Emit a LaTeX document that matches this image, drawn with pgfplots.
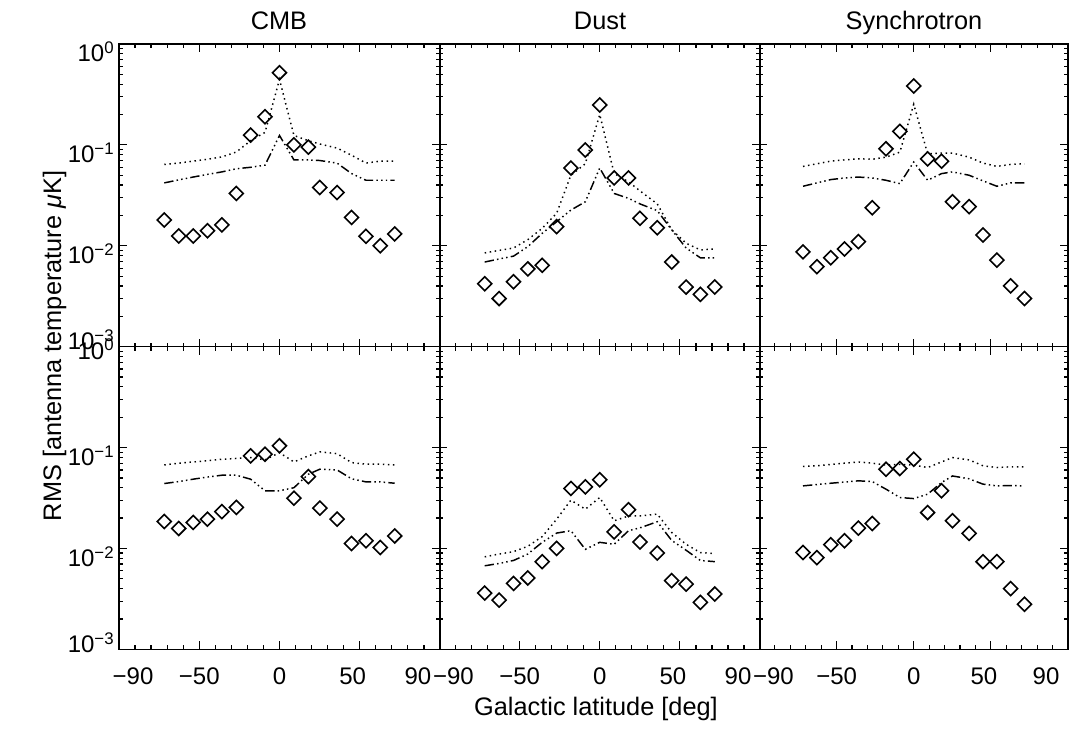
\documentclass[border=0pt]{standalone}
\usepackage{fontspec}
\setmainfont{Liberation Sans}
\usepackage{pgfplots}
\pgfplotsset{compat=1.18}
\usepackage{pgfplotstable}

% columns: latitude, rms of map (diamonds), dotted curve, dash-dot curve
\pgfplotstableread{
x     d       dot     dd
-64.6 0.0180  0.0640  0.0420
-56.5 0.0125  0.0660  0.0450
-48.4 0.0125  0.0690  0.0480
-40.4 0.0141  0.0720  0.0510
-32.3 0.0161  0.0760  0.0540
-24.2 0.0330  0.0850  0.0580
-16.2 0.1250  0.1100  0.0600
-8.1  0.1900  0.1330  0.0630
0     0.5200  0.4450  0.1240
8.1   0.1000  0.1240  0.0710
16.2  0.0950  0.1100  0.0710
22.6  0.0378  0.1020  0.0700
32.3  0.0337  0.0930  0.0660
40.4  0.0191  0.0790  0.0520
48.5  0.0124  0.0660  0.0446
56.5  0.0100  0.0690  0.0446
64.6  0.0131  0.0690  0.0446
}\cmbtop

\pgfplotstableread{
x     d       dot     dd
-64.6 0.0042  0.0085  0.0069
-56.5 0.0030  0.0090  0.0074
-48.4 0.0044  0.0095  0.0079
-40.4 0.0059  0.0115  0.0098
-32.3 0.0064  0.0149  0.0133
-24.2 0.0155  0.0210  0.0173
-16.2 0.0590  0.0500  0.0226
-8.1  0.0890  0.0650  0.0273
0     0.2490  0.2000  0.0590
8.1   0.0470  0.0520  0.0330
16.2  0.0470  0.0430  0.0295
22.6  0.0187  0.0350  0.0260
32.3  0.0151  0.0260  0.0223
40.4  0.0069  0.0144  0.0144
48.5  0.0039  0.0106  0.0095
56.5  0.0033  0.0091  0.0076
64.6  0.0039  0.0093  0.0076
}\dusttop

\pgfplotstableread{
x     d       dot     dd
-64.6 0.0087  0.0612  0.0389
-56.5 0.0062  0.0650  0.0420
-48.4 0.0076  0.0690  0.0453
-40.4 0.0093  0.0710  0.0470
-32.3 0.0110  0.0728  0.0480
-24.2 0.0238  0.0720  0.0470
-16.2 0.0914  0.0756  0.0446
-8.1  0.1360  0.0847  0.0413
0     0.3840  0.2530  0.0676
8.1   0.0728  0.0816  0.0446
16.2  0.0690  0.0830  0.0519
22.6  0.0273  0.0830  0.0540
32.3  0.0244  0.0756  0.0500
40.4  0.0128  0.0660  0.0440
48.5  0.0072  0.0612  0.0389
56.5  0.0040  0.0640  0.0420
64.6  0.0030  0.0650  0.0420
}\syntop

\pgfplotstableread{
x     d       dot     dd
-64.6 0.0185  0.0673  0.0440
-56.5 0.0158  0.0700  0.0460
-48.4 0.0181  0.0720  0.0486
-40.4 0.0195  0.0740  0.0510
-32.3 0.0232  0.0766  0.0532
-24.2 0.0255  0.0780  0.0532
-16.2 0.0827  0.0796  0.0486
-8.1  0.0859  0.0755  0.0373
0     0.1040  0.0890  0.0373
8.1   0.0315  0.0721  0.0400
16.2  0.0516  0.0827  0.0544
22.6  0.0251  0.0906  0.0610
32.3  0.0195  0.0870  0.0600
40.4  0.0112  0.0710  0.0490
48.5  0.0119  0.0684  0.0457
56.5  0.0102  0.0684  0.0457
64.6  0.0133  0.0673  0.0443
}\cmbbot

\pgfplotstableread{
x     d        dot     dd
-64.6 0.00361  0.00826 0.00673
-56.5 0.00308  0.0088  0.0071
-48.4 0.0045   0.0093  0.0076
-40.4 0.0051   0.0105  0.0088
-32.3 0.0074   0.0131  0.0115
-24.2 0.0100   0.0195  0.0142
-16.2 0.0393   0.0301  0.0150
-8.1  0.0408   0.0245  0.0098
0     0.0479   0.0320  0.0115
8.1   0.0146   0.0188  0.0110
16.2  0.0242   0.0210  0.0150
22.6  0.0116   0.0210  0.0160
32.3  0.0090   0.0219  0.0184
40.4  0.0048   0.0144  0.0120
48.5  0.00443  0.0110  0.0096
56.5  0.00292  0.0091  0.0076
64.6  0.00353  0.0089  0.0074
}\dustbot

\pgfplotstableread{
x     d       dot     dd
-64.6 0.0091  0.0649  0.0417
-56.5 0.0081  0.0660  0.0430
-48.4 0.0109  0.0680  0.0443
-40.4 0.0119  0.0700  0.0455
-32.3 0.0159  0.0720  0.0468
-24.2 0.0177  0.0700  0.0460
-16.2 0.0610  0.0670  0.0387
-8.1  0.0620  0.0680  0.0320
0     0.0766  0.0670  0.0312
8.1   0.0227  0.0634  0.0345
16.2  0.0373  0.0720  0.0450
22.6  0.0188  0.0796  0.0523
32.3  0.0141  0.0755  0.0490
40.4  0.0074  0.0660  0.0434
48.5  0.0074  0.0634  0.0417
56.5  0.0040  0.0644  0.0420
64.6  0.0028  0.0644  0.0417
}\synbot

\newcommand{\tl}[1]{10\textsuperscript{#1}}
\newcommand{\up}[2]{\raisebox{#1}[\height][\depth]{#2}}
% label drawn off-centre from its tick, as in the original
\newcommand{\sh}[2]{\hspace*{#1}\makebox[0pt][c]{#2}\hspace*{-#1}}

\pgfplotsset{
  every axis/.append style={
    scale only axis, anchor=north west, height=227pt,
    xmin=-90, xmax=90, ymin=1e-3, ymax=1,
    xtick={-90,-45,0,45,90}, minor x tick num=4,
    ytick={0.001,0.01,0.1,1},
    tick align=inside, tick pos=both,
    major tick length=6pt, minor tick length=3pt,
    axis line style={line width=1.1pt},
    tick style={black, line width=0.9pt},
    xticklabels={}, yticklabels={},
    tick label style={font=\fontsize{18}{20}\selectfont},
    xticklabel style={yshift=-10pt},
    yticklabel style={yshift=-6pt},
  },
  rmsdia/.style={only marks, mark=square, mark size=3.7pt,
    mark options={rotate=45, solid, line width=1.2pt, line join=miter}},
  rmsdot/.style={no markers, line width=1.1pt, dash pattern=on 1.1pt off 2.7pt},
  rmsdd/.style={no markers, line width=1.1pt,
    dash pattern=on 7pt off 2.4pt on 1.1pt off 2.4pt on 1.1pt off 2.4pt on 1.1pt off 2.4pt},
}

\begin{document}
\begin{tikzpicture}
\path[use as bounding box] (0pt,0pt) rectangle (804pt,546.75pt);

% top row
\begin{axis}[ymode=log, at={(89.25pt,513.75pt)}, width=240.75pt,
  yticklabels={{\up{11pt}{\tl{−3}}},{\tl{−2}},{\tl{−1}},{\tl{0}}}]
\addplot[rmsdd] table[x=x,y=dd]{\cmbtop};
\addplot[rmsdot] table[x=x,y=dot]{\cmbtop};
\addplot[rmsdia] table[x=x,y=d]{\cmbtop};
\end{axis}
\begin{axis}[ymode=log, at={(329.6pt,513.75pt)}, width=240.4pt]
\addplot[rmsdd] table[x=x,y=dd]{\dusttop};
\addplot[rmsdot] table[x=x,y=dot]{\dusttop};
\addplot[rmsdia] table[x=x,y=d]{\dusttop};
\end{axis}
\begin{axis}[ymode=log, at={(569.6pt,513.75pt)}, width=231.4pt]
\addplot[rmsdd] table[x=x,y=dd]{\syntop};
\addplot[rmsdot] table[x=x,y=dot]{\syntop};
\addplot[rmsdia] table[x=x,y=d]{\syntop};
\end{axis}

% bottom row
\begin{axis}[ymode=log, at={(89.25pt,286.75pt)}, width=240.75pt,
  xticklabels={{\sh{10.5pt}{−90}},{−50},{0},{\sh{-5.25pt}{50}},{\sh{-16.5pt}{90}}},
  yticklabels={{\up{11pt}{\tl{−3}}},{\tl{−2}},{\tl{−1}},{\up{4pt}{\tl{0}}}}]
\addplot[rmsdd] table[x=x,y=dd]{\cmbbot};
\addplot[rmsdot] table[x=x,y=dot]{\cmbbot};
\addplot[rmsdia] table[x=x,y=d]{\cmbbot};
\end{axis}
\begin{axis}[ymode=log, at={(329.6pt,286.75pt)}, width=240.4pt,
  xticklabels={{\sh{10.5pt}{−90}},{−50},{0},{\sh{-5.25pt}{50}},{\sh{-16.5pt}{90}}}]
\addplot[rmsdd] table[x=x,y=dd]{\dustbot};
\addplot[rmsdot] table[x=x,y=dot]{\dustbot};
\addplot[rmsdia] table[x=x,y=d]{\dustbot};
\end{axis}
\begin{axis}[ymode=log, at={(569.6pt,286.75pt)}, width=231.4pt,
  xticklabels={{\sh{10.5pt}{−90}},{−50},{0},{\sh{-5.25pt}{50}},{\sh{-16.5pt}{90}}}]
\addplot[rmsdd] table[x=x,y=dd]{\synbot};
\addplot[rmsdot] table[x=x,y=dot]{\synbot};
\addplot[rmsdia] table[x=x,y=d]{\synbot};
\end{axis}

% titles and axis labels
\begin{scope}[every node/.style={font=\fontsize{19}{22}\selectfont, inner sep=0pt}]
\node[anchor=base] at (209.25pt,524.8pt) {CMB};
\node[anchor=base] at (450pt,524.8pt) {Dust};
\node[anchor=base] at (685.5pt,524.8pt) {Synchrotron};
\node[anchor=base] at (447pt,9.75pt) {Galactic latitude [deg]};
\node[rotate=90] at (41pt,287.25pt) {RMS [antenna temperature \textit{μ}K]};
\end{scope}
\end{tikzpicture}
\end{document}
